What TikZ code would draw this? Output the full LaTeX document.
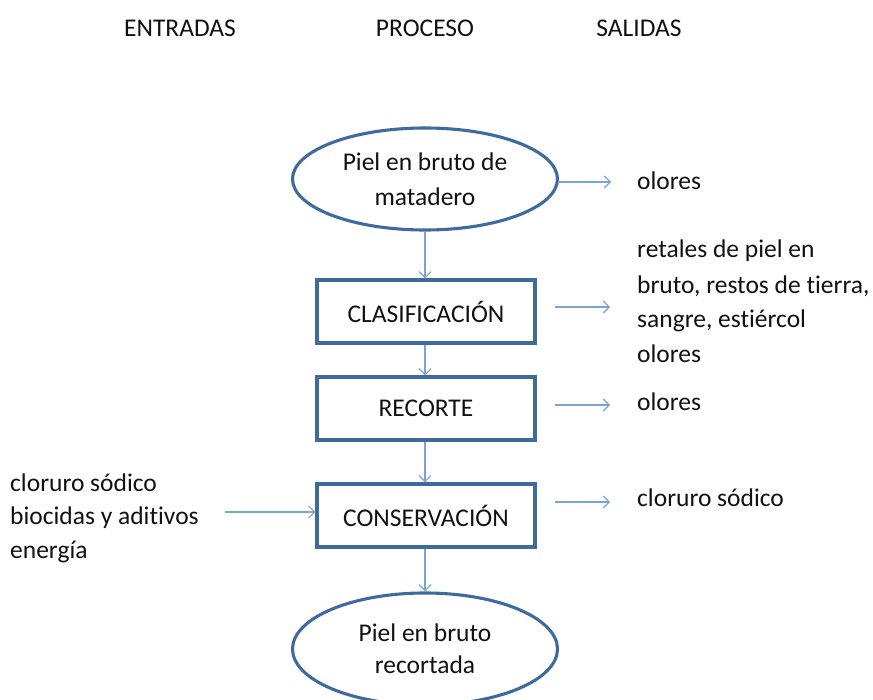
\documentclass[tikz,border=0pt]{standalone}
\usepackage{fontspec}
\setmainfont[Ligatures=NoCommon]{Carlito}
\usetikzlibrary{shapes.geometric,arrows.meta}
\definecolor{boxblue}{HTML}{3F6A9E}
\definecolor{arrblue}{HTML}{7BA3D4}
\definecolor{txt}{HTML}{111111}
\begin{document}
\begin{tikzpicture}[x=1pt,y=-1pt,
  txtfont/.style={font=\fontsize{25.5}{35}\selectfont, text=txt},
  proc/.style={draw=boxblue, line width=3.1pt, minimum width=218pt, minimum height=63pt, inner sep=0pt, txtfont},
  term/.style={ellipse, draw=boxblue, line width=3.1pt, minimum width=265pt, minimum height=102pt, inner sep=0pt, align=center, txtfont},
  conn/.style={draw=arrblue, line width=1.2pt, -{Straight Barb[length=6pt,width=12pt]}},
  lbl/.style={anchor=base west, align=left, inner sep=0pt, txtfont},
  head/.style={inner sep=0pt, txtfont}]
\useasboundingbox (0,0) rectangle (873,700);
% headers
\node[head] (h1) at (180,28) {ENTRADAS};
\node[head] (h2) at (425,28) {PROCESO};
\node[head] (h3) at (639,28) {SALIDAS};
% process
\node[term] (e1) at (425,179) {Piel en bruto de\\matadero};
\node[proc] (b1) at (426,311.5) {CLASIFICACIÓN};
\node[proc] (b2) at (426,408.5) {RECORTE};
\node[proc] (b3) at (426,515.5) {CONSERVACIÓN};
\node[term, minimum height=112pt, font=\fontsize{25.5}{32}\selectfont] (e2) at (425,649) {Piel en bruto\\recortada};
% vertical connectors
\draw[conn] (e1.south -| 425,0) -- (b1.north -| 425,0);
\draw[conn] (b1.south -| 425,0) -- (b2.north -| 425,0);
\draw[conn] (b2.south -| 425,0) -- (b3.north -| 425,0);
\draw[conn] (b3.south -| 425,0) -- (e2.north -| 425,0);
% outputs (base anchor = baseline of last line)
\node[lbl] (o1) at (637,190) {olores};
\node[lbl] (o2) at (637,363) {retales de piel en\\bruto, restos de tierra,\\sangre, estiércol\\olores};
\node[lbl] (o3) at (637,411) {olores};
\node[lbl] (o4) at (637,506) {cloruro sódico};
\coordinate (a1s) at (558,182);  \coordinate (a1e) at (611,182);
\coordinate (a2s) at (555,307);  \coordinate (a2e) at (610,307);
\coordinate (a3s) at (555,405);  \coordinate (a3e) at (610,405);
\coordinate (a4s) at (555,502);  \coordinate (a4e) at (610,502);
\draw[conn] (a1s) -- (a1e);
\draw[conn] (a2s) -- (a2e);
\draw[conn] (a3s) -- (a3e);
\draw[conn] (a4s) -- (a4e);
% inputs
\node[lbl, font=\fontsize{25.5}{33.5}\selectfont] (i1) at (10,558) {cloruro sódico\\biocidas y aditivos\\energía};
\coordinate (i1s) at (225,512);
\draw[conn] (i1s) -- (b3.west |- i1s);
\end{tikzpicture}
\end{document}
